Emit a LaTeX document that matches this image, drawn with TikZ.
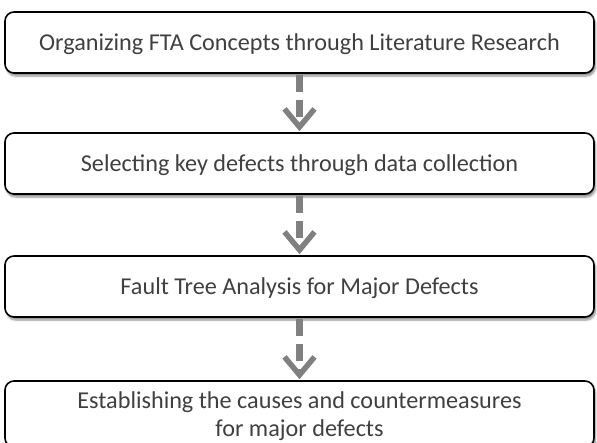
\documentclass[tikz,border=0pt]{standalone}
\usepackage{fontspec}
\setmainfont{Carlito}
\usetikzlibrary{arrows.meta,shadows.blur}
\definecolor{textgray}{HTML}{404040}
\definecolor{arrowgray}{HTML}{808080}
\begin{document}
\begin{tikzpicture}[
  x=1pt,
  y=-1pt,
  stepbox/.style={
    draw=black,
    line width=1.6pt,
    rounded corners=9pt,
    fill=white,
    minimum width=589pt,
    minimum height=61pt,
    text=textgray,
    text depth=0pt,
    align=center,
    font=\fontsize{24.2}{28}\selectfont,
    blur shadow={shadow xshift=1.5pt, shadow yshift=-3pt, shadow blur steps=6, shadow opacity=45}
  },
  flowarrow/.style={
    draw=arrowgray,
    line width=6.5pt,
    dash pattern=on 17pt off 8pt,
    -{Straight Barb[length=18pt, width=30pt, line width=5.5pt]}
  }
]
\useasboundingbox (0,0) rectangle (597,442);

\node[stepbox] (box1) at (299.5,42.5) {Organizing FTA Concepts through Literature Research};
\node[stepbox] (box2) at (299.5,163.5) {Selecting key defects through data collection};
\node[stepbox] (box3) at (299.5,286.5) {Fault Tree Analysis for Major Defects};
\node[stepbox, minimum height=66pt] (box4) at (299.5,414) {Establishing the causes and countermeasures\\for major defects};

\draw[flowarrow] ([yshift=-1pt]box1.south) -- ([yshift=1pt]box2.north);
\draw[flowarrow] ([yshift=-1pt]box2.south) -- ([yshift=1pt]box3.north);
\draw[flowarrow] ([yshift=-1pt]box3.south) -- ([yshift=1pt]box4.north);

\end{tikzpicture}
\end{document}
